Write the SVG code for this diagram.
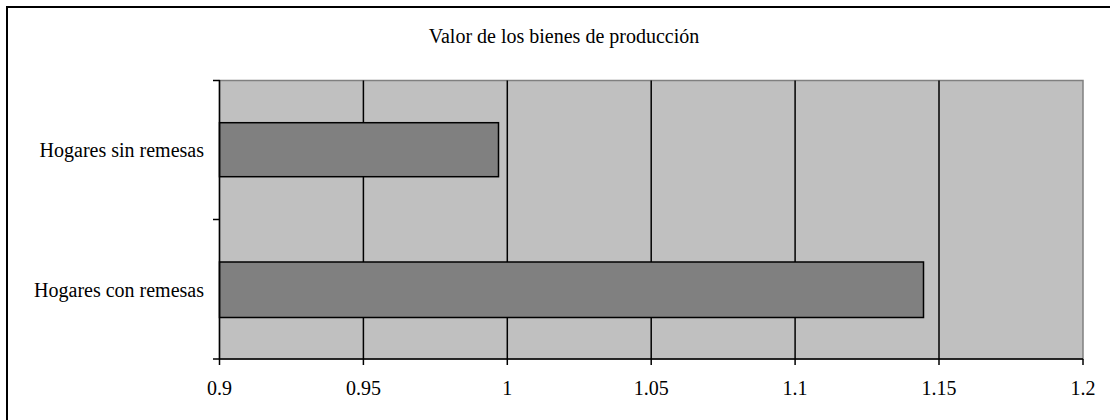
<svg xmlns="http://www.w3.org/2000/svg" width="1110" height="420" viewBox="0 0 1110 420">
<style>
text{font-family:"Liberation Serif",serif;font-size:20px;fill:#000}
.grid{stroke:#000;stroke-width:1.5}
.bar{fill:#808080;stroke:#000;stroke-width:1.5}
.ax{stroke:#000;stroke-width:1.5;fill:none}
</style>
<rect x="0" y="0" width="1110" height="420" fill="#fff"/>
<rect x="7" y="7" width="1110" height="420" fill="none" stroke="#000" stroke-width="2"/>
<text x="564" y="43" text-anchor="middle" font-family="Liberation Serif, serif">Valor de los bienes de producción</text>
<g id="plot">
<rect x="219.5" y="80.5" width="863.5" height="278.5" fill="#C0C0C0" stroke="#808080" stroke-width="1.5"/>
<g id="gridlines" class="grid">
<line x1="363.4" y1="80.5" x2="363.4" y2="365"/>
<line x1="507.3" y1="80.5" x2="507.3" y2="365"/>
<line x1="651.2" y1="80.5" x2="651.2" y2="365"/>
<line x1="795.1" y1="80.5" x2="795.1" y2="365"/>
<line x1="939.0" y1="80.5" x2="939.0" y2="365"/>
<line x1="1083" y1="359" x2="1083" y2="365"/>
</g>
</g>
<g id="bar-sin">
<rect class="bar" x="219.5" y="122.7" width="279" height="54"/>
<text x="204" y="157" text-anchor="end" font-family="Liberation Serif, serif">Hogares sin remesas</text>
</g>
<g id="bar-con">
<rect class="bar" x="219.5" y="262" width="704" height="55.5"/>
<text x="204" y="297" text-anchor="end" font-family="Liberation Serif, serif">Hogares con remesas</text>
</g>
<g id="axes" class="ax">
<line x1="219.5" y1="80" x2="219.5" y2="365"/>
<line x1="213" y1="359" x2="1083" y2="359"/>
<line x1="213" y1="80.5" x2="219.5" y2="80.5"/>
<line x1="213" y1="219.5" x2="219.5" y2="219.5"/>
</g>
<g id="xlabels" text-anchor="middle" font-family="Liberation Serif, serif">
<text x="219.5" y="395">0.9</text>
<text x="363.4" y="395">0.95</text>
<text x="507.3" y="395">1</text>
<text x="651.2" y="395">1.05</text>
<text x="795.1" y="395">1.1</text>
<text x="939" y="395">1.15</text>
<text x="1083" y="395">1.2</text>
</g>
</svg>
